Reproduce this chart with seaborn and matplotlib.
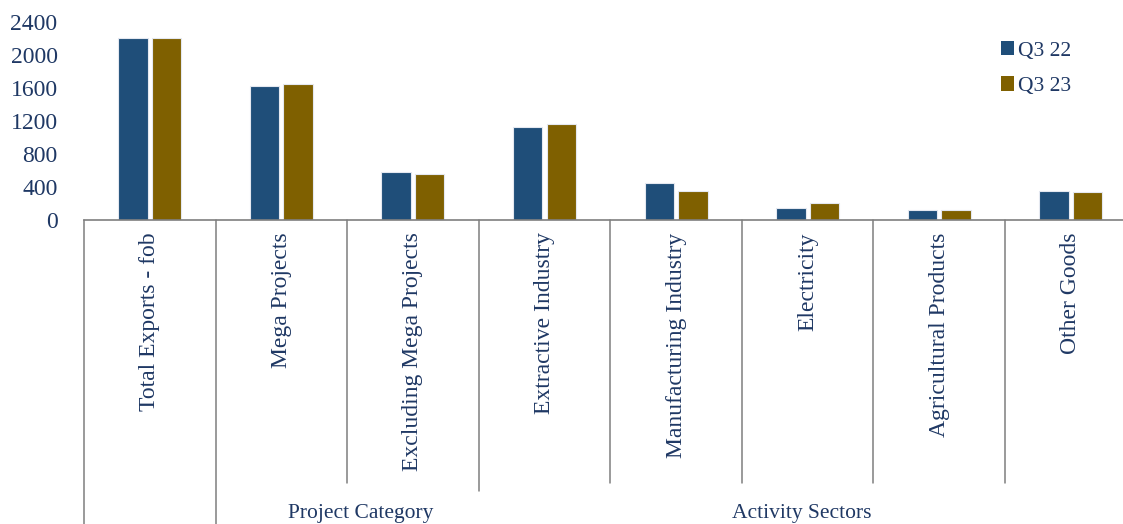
import matplotlib
matplotlib.use("Agg")
import matplotlib.pyplot as plt
import matplotlib.transforms as mtransforms
from matplotlib.patches import Patch
import seaborn as sns
import pandas as pd

# ---- data ----
categories = ["Total Exports - fob", "Mega Projects", "Excluding Mega Projects",
              "Extractive Industry", "Manufacturing Industry", "Electricity",
              "Agricultural Products", "Other Goods"]
groups = ["", "Project Category", "Project Category",
          "Activity Sectors", "Activity Sectors", "Activity Sectors",
          "Activity Sectors", "Activity Sectors"]
q3_22 = [2210, 1625, 582, 1127, 448, 141, 125, 352]
q3_23 = [2210, 1652, 554, 1160, 352, 206, 125, 340]
series = ["Q3 22", "Q3 23"]
yticks = [0, 400, 800, 1200, 1600, 2000, 2400]

colors = {"Q3 22": "#1F4E79", "Q3 23": "#7F6000"}
text_color = "#1F3864"
line_color = "#7F7F7F"

df = pd.DataFrame({
    "category": categories * 2,
    "series": [series[0]] * len(categories) + [series[1]] * len(categories),
    "value": q3_22 + q3_23,
})

sns.set_theme(style="white")
plt.rcParams["font.family"] = ["Liberation Serif", "DejaVu Serif"]

W, H = 1123, 524
fig = plt.figure(figsize=(W / 100, H / 100), dpi=100)
left_px, right_px, top_px, bottom_px = 84, 1136.6, 22, 220
ax = fig.add_axes([left_px / W, 1 - bottom_px / H,
                   (right_px - left_px) / W, (bottom_px - top_px) / H])

sns.barplot(data=df, x="category", y="value", hue="series", order=categories,
            hue_order=series, palette=colors, width=0.51, gap=0.12,
            edgecolor="#E4E8F0", linewidth=0.8, saturation=1, ax=ax,
            legend=False)

ax.set_xlim(-0.5, len(categories) - 0.5)
ax.set_ylim(0, 2400)
ax.set_yticks(yticks)
ax.set_yticklabels([str(t) for t in yticks], fontsize=17, color=text_color)
ax.set_xticks(range(len(categories)))
ax.set_xticklabels(categories, rotation=90, fontsize=17, color=text_color,
                   va="top", ha="center")
ax.tick_params(axis="y", length=0, pad=19)
ax.tick_params(axis="x", length=0, pad=9)
ax.set_xlabel("")
ax.set_ylabel("")
for s in ["left", "right", "top"]:
    ax.spines[s].set_visible(False)
ax.spines["bottom"].set_color(line_color)
ax.spines["bottom"].set_linewidth(1.2)

# category separators below the axis
trans = mtransforms.blended_transform_factory(ax.transData, ax.transAxes)
ax_h = bottom_px - top_px
depths_px = [330, 330, 263, 271, 263, 263, 263, 263, 263]
for i, d in enumerate(depths_px):
    ax.plot([i - 0.5, i - 0.5], [0, -d / ax_h], transform=trans,
            color=line_color, lw=1.1, clip_on=False)

# group labels
seen = []
for g in groups:
    if g and g not in seen:
        seen.append(g)
label_shift = {"Project Category": 0.1, "Activity Sectors": -0.045}
gy = -(504 - bottom_px) / ax_h
for g in seen:
    idx = [i for i, gg in enumerate(groups) if gg == g]
    cx = (min(idx) + max(idx)) / 2 + label_shift[g]
    ax.text(cx, gy, g, transform=trans, ha="center", va="top",
            fontsize=15.5, color=text_color, clip_on=False)

# legend
handles = [Patch(facecolor=colors[s], edgecolor="none") for s in series]
fig.legend(handles, series, loc="upper left",
           bbox_to_anchor=(1001 / W, 1 - 41 / H), frameon=False,
           fontsize=15.5, labelcolor=text_color, handlelength=0.6,
           handleheight=0.65, handletextpad=0.2, labelspacing=0.72,
           borderpad=0, borderaxespad=0)

fig.savefig("out.png", dpi=100)
